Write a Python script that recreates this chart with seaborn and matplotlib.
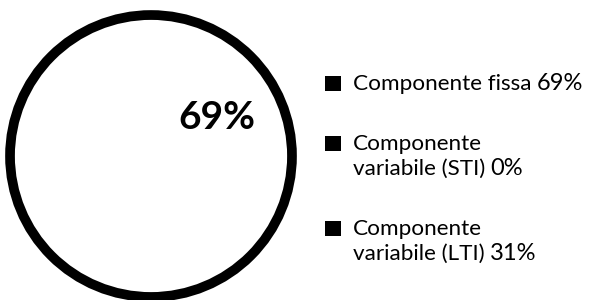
import matplotlib
matplotlib.use("Agg")
import matplotlib.pyplot as plt
import seaborn as sns

sns.set_theme(style="white")
plt.rcParams['font.family'] = ['Lato', 'DejaVu Sans']

# data
labels = ['Componente fissa', 'Componente\nvariabile (STI)', 'Componente\nvariabile (LTI)']
values = [69, 0, 31]
pct_labels = ['69%', '0%', '31%']

W, H = 595, 300
fig = plt.figure(figsize=(W / 100, H / 100), dpi=100)
fig.patch.set_facecolor('white')

# pie area (square, centred on the circle)
ax = fig.add_axes([1 / W, -6 / H, 300 / W, 300 / H])
wedges, texts, autotexts = ax.pie(
    values, colors=['white'] * 3, startangle=-94, counterclock=True,
    autopct=lambda p: f'{p:.0f}%' if p > 50 else '', pctdistance=0.54,
    wedgeprops=dict(linewidth=0))
for t in autotexts:
    t.set_fontsize(28)
    t.set_fontweight('bold')
    t.set_color('black')
ax.add_patch(plt.Circle((0, 0), 1, fill=False, edgecolor='black', linewidth=7))
ax.set_xlim(-1.064, 1.064)
ax.set_ylim(-1.064, 1.064)
ax.set_aspect('equal')
ax.axis('off')

# legend drawn by hand (label + bigger percentage)
baselines = [90, 150, 235]
line_gap = 25
fig.canvas.draw()
renderer = fig.canvas.get_renderer()
for lab, pct, yb in zip(labels, pct_labels, baselines):
    fig.patches.append(plt.Rectangle((325 / W, 1 - (yb + 1) / H), 16 / W, 15 / H,
                                     transform=fig.transFigure, facecolor='black',
                                     edgecolor='none'))
    lines = lab.split('\n')
    last = None
    for i, ln in enumerate(lines):
        last = fig.text(353 / W, 1 - (yb + i * line_gap) / H, ln, fontsize=16.2,
                        va='baseline', ha='left', color='black')
    bb = last.get_window_extent(renderer)
    fig.text((bb.x1 + 5) / W, 1 - (yb + (len(lines) - 1) * line_gap) / H, pct,
             fontsize=17, va='baseline', ha='left', color='black')

fig.savefig('out.png', dpi=100, facecolor='white')
